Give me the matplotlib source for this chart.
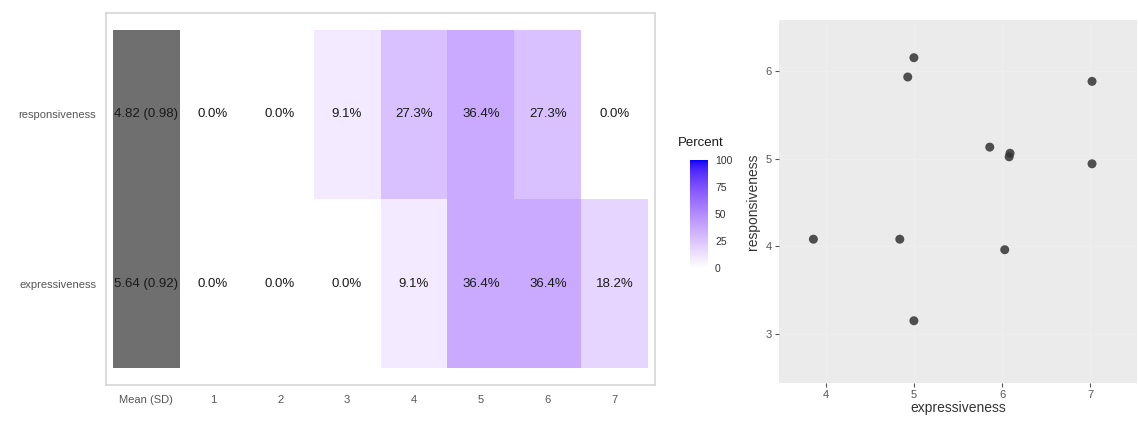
import numpy as np
import matplotlib
matplotlib.use("Agg")
import matplotlib.pyplot as plt
from matplotlib.colors import ListedColormap

plt.rcParams['font.family'] = ['Liberation Sans', 'DejaVu Sans']

# data
items = ["expressiveness", "responsiveness"]
levels = ["1", "2", "3", "4", "5", "6", "7"]
pct_expr = [0.0, 0.0, 0.0, 9.1, 36.4, 36.4, 18.2]
pct_resp = [0.0, 0.0, 9.1, 27.3, 36.4, 27.3, 0.0]
mean_sd = ["5.64 (0.92)", "4.82 (0.98)"]

expr_x = [5.00, 4.93, 7.02, 5.86, 6.09, 6.08, 7.02, 3.86, 4.84, 6.03, 5.00]
resp_y = [6.15, 5.93, 5.88, 5.13, 5.06, 5.02, 4.94, 4.08, 4.08, 3.96, 3.15]


# white -> blue gradient interpolated in Lab (like ggplot)
def srgb_to_lab(c):
    c = np.asarray(c, float)
    lin = np.where(c > 0.04045, ((c + 0.055) / 1.055) ** 2.4, c / 12.92)
    M = np.array([[0.4124, 0.3576, 0.1805],
                  [0.2126, 0.7152, 0.0722],
                  [0.0193, 0.1192, 0.9505]])
    xyz = M @ lin / np.array([0.95047, 1.0, 1.08883])
    f = np.where(xyz > 0.008856, np.cbrt(xyz), 7.787 * xyz + 16 / 116)
    return np.array([116 * f[1] - 16, 500 * (f[0] - f[1]), 200 * (f[1] - f[2])])


def lab_to_srgb(lab):
    L, a, b = lab
    fy = (L + 16) / 116
    fx = fy + a / 500
    fz = fy - b / 200
    f = np.array([fx, fy, fz])
    xyz = np.where(f ** 3 > 0.008856, f ** 3, (f - 16 / 116) / 7.787)
    xyz = xyz * np.array([0.95047, 1.0, 1.08883])
    Minv = np.array([[3.2406, -1.5372, -0.4986],
                     [-0.9689, 1.8758, 0.0415],
                     [0.0557, -0.2040, 1.0570]])
    lin = Minv @ xyz
    c = np.where(lin > 0.0031308, 1.055 * np.clip(lin, 0, None) ** (1 / 2.4) - 0.055, 12.92 * lin)
    return np.clip(c, 0, 1)


lab_lo = srgb_to_lab([1, 1, 1])
lab_hi = srgb_to_lab([0, 0, 1])
cols = [lab_to_srgb(lab_lo + t * (lab_hi - lab_lo)) for t in np.linspace(0, 1, 256)]
cmap = ListedColormap(cols)

fig = plt.figure(figsize=(11.38, 4.22), dpi=100)
W, H = 1138, 422

# left: heatmap
ax = fig.add_axes([106 / W, 1 - 385 / H, (655 - 106) / W, (385 - 13) / H])
ax.set_facecolor("white")
data = np.array([pct_expr, pct_resp])
for r in range(2):
    ax.bar(0, 1, width=1, bottom=r + 0.5, color="#6f6f6f", linewidth=0)
    ax.text(0, r + 1, mean_sd[r], ha="center", va="center", fontsize=9.5, color="#1a1a1a")
    for c in range(7):
        v = data[r, c]
        ax.bar(c + 1, 1, width=1, bottom=r + 0.5, color=cmap(v / 100), linewidth=0)
        ax.text(c + 1, r + 1, f"{v:.1f}%", ha="center", va="center", fontsize=9.5, color="#1a1a1a")
ax.set_xlim(-0.6, 7.6)
ax.set_ylim(0.4, 2.6)
ax.set_xticks(range(8))
ax.set_xticklabels(["Mean (SD)"] + levels)
ax.set_yticks([1, 2])
ax.set_yticklabels(items)
ax.tick_params(length=0, labelsize=8, colors="#555555", pad=7)
for s in ax.spines.values():
    s.set_color("#d5d5d5")
    s.set_linewidth(1.2)

# colorbar legend
cax = fig.add_axes([690 / W, 1 - 268 / H, 18 / W, 108 / H])
grad = np.linspace(0, 100, 256).reshape(-1, 1)
cax.imshow(grad, cmap=cmap, aspect="auto", origin="lower", extent=[0, 1, 0, 100])
cax.set_xticks([])
cax.yaxis.tick_right()
cax.set_yticks([0, 25, 50, 75, 100])
cax.tick_params(axis="y", length=3, color="white", labelsize=7.5, labelcolor="#333333", pad=2)
for s in cax.spines.values():
    s.set_visible(False)
fig.text(678 / W, 1 - 143 / H, "Percent", fontsize=9.5, color="#1a1a1a", va="center", ha="left")

# right: scatter
ax2 = fig.add_axes([779 / W, 1 - 383 / H, (1137 - 779) / W, (383 - 20) / H])
ax2.set_facecolor("#ebebeb")
ax2.scatter(expr_x, resp_y, s=42, color="#333333", alpha=0.85, edgecolors="none", zorder=3)
ax2.set_xlim(3.47, 7.53)
ax2.set_ylim(2.44, 6.58)
ax2.set_xticks([4, 5, 6, 7])
ax2.set_yticks([3, 4, 5, 6])
ax2.grid(True, color="#eeeeee", linewidth=0.8)
ax2.set_axisbelow(True)
ax2.tick_params(length=3, labelsize=8, colors="#555555", pad=2)
for s in ax2.spines.values():
    s.set_visible(False)
ax2.set_xlabel("expressiveness", fontsize=10, color="#333333", labelpad=1)
ax2.set_ylabel("responsiveness", fontsize=10, color="#333333", labelpad=4)

fig.savefig("out.png", dpi=100, facecolor="white")
